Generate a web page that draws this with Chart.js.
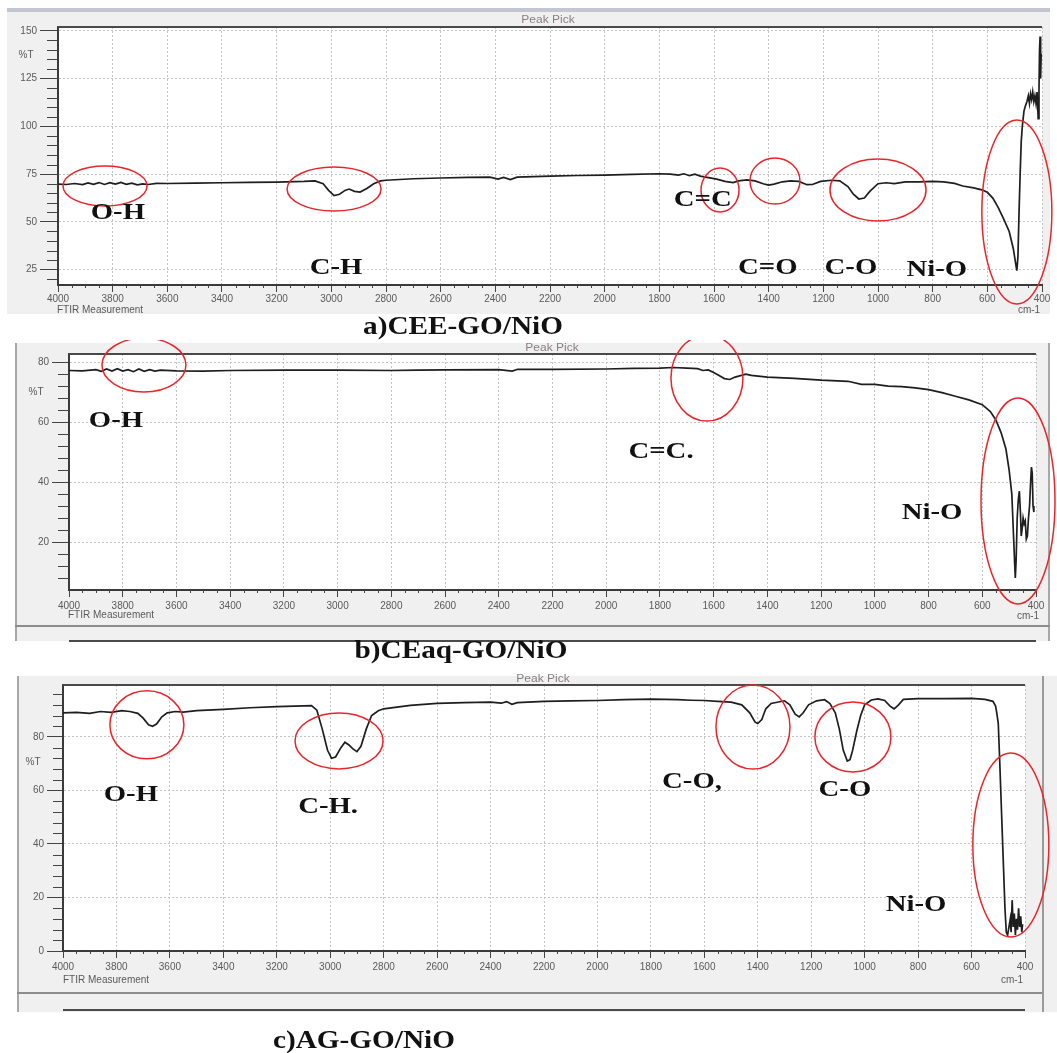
<!DOCTYPE html>
<html>
<head>
<meta charset="utf-8">
<script src="https://cdn.jsdelivr.net/npm/chart.js@4.4.1/dist/chart.umd.min.js"></script>
<style>
  html, body { margin: 0; padding: 0; background: #fff; }
  body { width: 1057px; height: 1053px; position: relative; overflow: hidden; }
  canvas { position: absolute; left: 0; }
</style>
</head>
<body>
<script>
// TICKS
const xTicks = [4000, 3800, 3600, 3400, 3200, 3000, 2800, 2600, 2400, 2200, 2000, 1800, 1600, 1400, 1200, 1000, 800, 600, 400];
const yTicksA = [25, 50, 75, 100, 125, 150];
const yTicksB = [20, 40, 60, 80];
const yTicksC = [0, 20, 40, 60, 80];

// a) CEE-GO/NiO  (wavenumber cm-1 / %T)
const waveA = [
  4000, 3970, 3940, 3910, 3890, 3870, 3850, 3830, 3810, 3790,
  3770, 3750, 3730, 3710, 3690, 3670, 3640, 3600, 3500, 3400,
  3300, 3200, 3100, 3060, 3030, 3010, 2990, 2970, 2950, 2935,
  2915, 2895, 2870, 2845, 2820, 2800, 2700, 2600, 2500, 2420,
  2390, 2370, 2345, 2320, 2200, 2100, 2000, 1900, 1800, 1760,
  1730, 1710, 1690, 1670, 1650, 1620, 1590, 1560, 1530, 1510,
  1480, 1450, 1420, 1400, 1380, 1350, 1320, 1290, 1260, 1240,
  1210, 1170, 1140, 1110, 1090, 1070, 1050, 1030, 1000, 970,
  940, 900, 850, 800, 760, 720, 690, 650, 620, 600,
  580, 560, 540, 520, 505, 495, 492, 488, 484, 480,
  476, 472, 466, 460, 455, 450, 446, 442, 438, 434,
  430, 426, 422, 418, 414, 411, 409, 407, 405, 403
];
const transA = [
  69.8, 69.6, 70.1, 69.5, 70.4, 69.7, 70.6, 69.6, 70.5, 69.8,
  70.7, 69.7, 70.3, 69.4, 69.9, 69.6, 70.2, 70.1, 70.3, 70.5,
  70.7, 70.8, 71.2, 71.5, 70.0, 66.5, 63.8, 64.5, 66.5, 67.2,
  66.0, 65.6, 67.5, 70.0, 71.5, 71.8, 72.6, 73.0, 73.3, 73.4,
  72.4, 73.3, 72.2, 73.4, 74.0, 74.3, 74.5, 74.9, 75.2, 75.0,
  74.5, 75.2, 74.2, 75.0, 74.0, 73.2, 72.4, 71.2, 70.6, 71.5,
  72.0, 71.5, 70.0, 69.3, 69.8, 71.0, 71.5, 71.2, 69.5, 69.6,
  71.2, 71.8, 71.5, 68.5, 64.5, 62.0, 62.5, 66.0, 70.0, 70.5,
  70.0, 71.0, 71.0, 71.2, 71.0, 70.2, 68.8, 67.8, 66.8, 65.5,
  62.5, 57.5, 51.5, 45.0, 36.0, 27.0, 24.5, 32.0, 55.0, 75.0,
  92.0, 100.0, 108.0, 111.0, 113.0, 116.0, 112.0, 117.0, 114.0, 118.0,
  113.0, 116.0, 112.0, 118.0, 104.0, 120.0, 140.0, 147.0, 125.0, 138.0
];

// b) CEaq-GO/NiO
const waveB = [
  4000, 3950, 3900, 3880, 3860, 3840, 3820, 3800, 3780, 3760,
  3740, 3720, 3700, 3680, 3660, 3600, 3500, 3400, 3200, 3000,
  2800, 2700, 2600, 2400, 2350, 2330, 2200, 2000, 1900, 1800,
  1750, 1700, 1660, 1640, 1620, 1600, 1580, 1560, 1540, 1520,
  1480, 1460, 1400, 1300, 1200, 1100, 1050, 1000, 950, 900,
  850, 800, 750, 700, 650, 600, 570, 550, 530, 512,
  500, 490, 485, 480, 477, 474, 470, 466, 462, 458,
  455, 452, 448, 444, 440, 436, 432, 428, 424, 420,
  417, 414, 411, 408
];
const transB = [
  77.2, 77.1, 77.5, 76.9, 77.7, 77.0, 77.8, 77.0, 77.5, 76.8,
  77.7, 76.9, 77.5, 77.0, 77.3, 77.1, 77.0, 77.2, 77.3, 77.3,
  77.2, 77.3, 77.4, 77.5, 77.0, 77.6, 77.6, 77.7, 77.9, 78.0,
  78.2, 78.0, 77.8, 77.2, 77.4, 76.5, 75.5, 74.5, 74.2, 75.0,
  76.0, 75.6, 75.0, 74.6, 74.0, 73.6, 72.6, 72.6, 72.0, 71.8,
  71.4, 70.8, 69.8, 68.6, 67.4, 65.8, 63.5, 60.8, 56.5, 51.0,
  44.0, 36.0, 25.0, 14.0, 8.0, 14.0, 28.0, 34.0, 37.0, 30.0,
  22.0, 24.0, 28.0, 26.0, 27.0, 21.0, 22.0, 28.0, 32.0, 40.0,
  45.0, 43.0, 32.0, 30.0
];

// c) AG-GO/NiO
const waveC = [
  4000, 3950, 3900, 3860, 3820, 3780, 3750, 3720, 3700, 3680,
  3665, 3650, 3630, 3610, 3580, 3550, 3500, 3400, 3300, 3200,
  3100, 3070, 3050, 3030, 3010, 2995, 2980, 2960, 2945, 2930,
  2915, 2900, 2885, 2865, 2845, 2820, 2800, 2700, 2600, 2500,
  2400, 2360, 2340, 2320, 2300, 2200, 2100, 2000, 1900, 1800,
  1700, 1650, 1600, 1550, 1500, 1460, 1430, 1410, 1400, 1385,
  1370, 1350, 1300, 1280, 1260, 1245, 1230, 1210, 1180, 1150,
  1130, 1110, 1095, 1080, 1065, 1055, 1045, 1030, 1015, 1000,
  975, 950, 925, 905, 890, 875, 855, 800, 700, 600,
  550, 520, 510, 505, 500, 495, 490, 485, 480, 475,
  470, 465, 460, 455, 452, 448, 444, 440, 436, 432,
  428, 424, 420, 416, 412, 409
];
const transC = [
  89.0, 89.2, 88.8, 89.5, 89.2, 89.8, 89.5, 88.8, 87.0, 84.5,
  84.0, 84.8, 87.5, 89.0, 89.5, 89.3, 89.8, 90.3, 90.9, 91.3,
  91.6, 91.7, 90.0, 83.0, 75.0, 72.0, 72.5, 76.0, 78.0, 77.0,
  75.5, 74.5, 76.5, 83.0, 88.0, 89.8, 90.5, 91.8, 92.5, 92.8,
  93.0, 92.6, 93.2, 92.2, 92.8, 93.3, 93.5, 93.6, 93.9, 94.1,
  93.9, 93.7, 93.6, 93.3, 93.0, 92.0, 89.0, 85.5, 85.0, 86.5,
  90.5, 92.5, 93.5, 92.0, 88.5, 87.5, 89.0, 92.0, 93.5, 93.9,
  92.5, 89.0, 83.0, 75.0, 71.0, 71.5, 75.0, 82.0, 88.0, 92.0,
  93.8, 94.2, 93.6, 91.5, 90.5, 91.8, 94.0, 94.3, 94.3, 94.4,
  94.0, 93.3, 91.5, 88.5, 85.0, 72.0, 58.0, 44.0, 30.0, 16.0,
  7.0, 6.0, 9.0, 12.0, 7.0, 19.0, 9.0, 14.0, 6.0, 12.0,
  8.0, 16.0, 9.0, 13.0, 7.0, 10.0
];

// BAND NAMES
const bandsA = ['O-H', 'C-H', 'C=C', 'C=O', 'C-O', 'Ni-O'];
const bandsB = ['O-H', 'C=C.', 'Ni-O'];
const bandsC = ['O-H', 'C-H.', 'C-O,', 'C-O', 'Ni-O'];

Chart.defaults.font.family = '"Liberation Sans", Arial, sans-serif';
Chart.defaults.font.size = 10;
Chart.defaults.color = '#5a5a5a';

function line(ctx, x1, y1, x2, y2) {
    ctx.beginPath();
    ctx.moveTo(x1, y1);
    ctx.lineTo(x2, y2);
    ctx.stroke();
}

function stretchText(ctx, text, x, y, font, sx) {
    ctx.save();
    ctx.translate(x, y);
    ctx.scale(sx, 1);
    ctx.font = font;
    ctx.textAlign = 'center';
    ctx.textBaseline = 'middle';
    ctx.fillText(text, 0, 0);
    ctx.restore();
}

function makeFrame(p) {
    return {
        id: 'ftirFrame',
        beforeDraw(chart) {
            const ctx = chart.ctx, a = chart.chartArea;
            ctx.save();
            p.back(ctx);
            ctx.fillStyle = '#ffffff';
            ctx.fillRect(a.left, a.top, a.right - a.left, a.bottom - a.top);
            ctx.restore();
        },
        afterDraw(chart) {
            const ctx = chart.ctx, a = chart.chartArea;
            const xs = chart.scales.x, ys = chart.scales.y;
            ctx.save();

            // top frame line of the plot
            ctx.strokeStyle = '#4a4a4a';
            ctx.lineWidth = 2;
            line(ctx, a.left, a.top, a.right, a.top);

            // minor ticks
            ctx.strokeStyle = '#444';
            ctx.lineWidth = 1;
            for (let v = 450; v < 4000; v += 50) {
                if (v % 200 === 0) continue;
                const px = Math.round(xs.getPixelForValue(v)) + 0.5;
                line(ctx, px, a.bottom, px, a.bottom + 3);
            }
            for (let v = p.minor.from; v < ys.max; v += p.minor.step) {
                if (p.yTicks.includes(v)) continue;
                const py = Math.round(ys.getPixelForValue(v)) + 0.5;
                line(ctx, a.left - p.minor.len, py, a.left, py);
            }

            // window texts
            ctx.fillStyle = '#5a5a5a';
            ctx.font = '10px "Liberation Sans"';
            ctx.textBaseline = 'middle';
            ctx.textAlign = 'center';
            ctx.fillText('%T', p.percentAt[0], p.percentAt[1]);
            ctx.fillText('cm-1', p.cmAt[0], p.cmAt[1]);
            ctx.textAlign = 'left';
            ctx.fillText('FTIR Measurement', p.ftirAt[0], p.ftirAt[1]);
            ctx.fillStyle = '#8b7d82';
            stretchText(ctx, 'Peak Pick', p.peakAt[0], p.peakAt[1], '10px "Liberation Sans"', 1.2);

            // red rings round the bands
            ctx.strokeStyle = '#e8262a';
            ctx.lineWidth = 1.5;
            p.rings.forEach(r => {
                ctx.beginPath();
                ctx.ellipse(xs.getPixelForValue(r[0]), ys.getPixelForValue(r[1]), r[2], r[3], 0, 0, Math.PI * 2);
                ctx.stroke();
            });

            // band names and caption
            ctx.fillStyle = '#111';
            p.names.forEach((n, i) => {
                stretchText(ctx, n, xs.getPixelForValue(p.spots[i][0]), ys.getPixelForValue(p.spots[i][1]),
                    'bold 23px "Liberation Serif"', 1.25);
            });
            stretchText(ctx, p.caption, p.captionAt[0], p.captionAt[1], 'bold 25px "Liberation Serif"', 1.17);
            ctx.restore();
        }
    };
}

function makePanel(p) {
    const canvas = document.createElement('canvas');
    canvas.width = 1057;
    canvas.height = p.height;
    canvas.style.top = p.top + 'px';
    document.body.appendChild(canvas);

    new Chart(canvas, {
        type: 'line',
        data: {
            datasets: [{
                data: p.wave.map((w, i) => ({ x: w, y: p.trans[i] })),
                borderColor: '#1e1e1e',
                borderWidth: 1.7,
                pointRadius: 0,
                tension: 0
            }]
        },
        options: {
            responsive: false,
            animation: false,
            devicePixelRatio: 1,
            layout: {
                padding: { left: 0, top: p.plot.top, right: 1057 - p.plot.right, bottom: 0 }
            },
            plugins: {
                legend: { display: false },
                tooltip: { enabled: false }
            },
            scales: {
                x: {
                    type: 'linear',
                    reverse: true,
                    min: 400,
                    max: 4000,
                    afterBuildTicks: s => { s.ticks = xTicks.map(v => ({ value: v })); },
                    afterFit: s => { s.height = p.height - p.plot.bottom; },
                    ticks: { autoSkip: false, maxRotation: 0, padding: p.xPad, callback: v => String(v) },
                    grid: { color: '#c4c4c4', tickColor: '#444', tickLength: 7 },
                    border: { color: '#3a3a3a', width: 2, dash: [2, 2] }
                },
                y: {
                    min: p.yMin,
                    max: p.yMax,
                    afterBuildTicks: s => { s.ticks = p.yTicks.map(v => ({ value: v })); },
                    afterFit: s => { s.width = p.plot.left; },
                    ticks: { padding: 3, callback: v => String(v) },
                    grid: { color: '#c4c4c4', tickColor: '#444', tickLength: p.tick },
                    border: { color: '#3a3a3a', width: 2, dash: [2, 2] }
                }
            }
        },
        plugins: [makeFrame(p)]
    });
}

makePanel({
    top: 0, height: 340,
    plot: { left: 58, right: 1042, top: 27, bottom: 285 },
    wave: waveA, trans: transA, yTicks: yTicksA, yMin: 17, yMax: 152,
    minor: { from: 20, step: 5, len: 11 }, tick: 18, xPad: 1,
    names: bandsA,
    spots: [[3781, 54.7], [2983, 25.9], [1641, 61.5], [1403, 25.9], [1099, 25.9], [785, 24.8]],
    rings: [[3828, 68.8, 42, 20], [2990, 67.2, 47, 22], [1578, 66.7, 19, 22], [1377, 71.4, 25, 23], [1000, 66.7, 48, 31], [492, 55.2, 35, 92]],
    caption: 'a)CEE-GO/NiO', captionAt: [463, 328],
    percentAt: [26, 55], peakAt: [548, 20], ftirAt: [57, 310], cmAt: [1029, 310],
    back(ctx) {
        ctx.fillStyle = '#f0f0f0';
        ctx.fillRect(7, 12, 1043, 302);
        ctx.fillStyle = '#c3c6d0';
        ctx.fillRect(7, 8, 1043, 4);
    }
});

makePanel({
    top: 340, height: 330,
    plot: { left: 69, right: 1036, top: 14, bottom: 250 },
    wave: waveB, trans: transB, yTicks: yTicksB, yMin: 4, yMax: 82.7,
    minor: { from: 8, step: 4, len: 11 }, tick: 17, xPad: 3,
    names: bandsB,
    spots: [[3825, 60.3], [1796, 50], [787, 29.7]],
    rings: [[3721, 79, 42, 27], [1625, 74.7, 36, 43], [467, 33.7, 37, 103]],
    caption: 'b)CEaq-GO/NiO', captionAt: [461, 312],
    percentAt: [36, 52], peakAt: [552, 8], ftirAt: [68, 275], cmAt: [1028, 276],
    back(ctx) {
        ctx.fillStyle = '#f0f0f0';
        ctx.fillRect(15, 3, 1035, 298);
        ctx.fillStyle = '#a8a8a8';
        ctx.fillRect(15, 3, 2, 298);
        ctx.fillRect(1048, 3, 2, 298);
        ctx.fillStyle = '#8c8c8c';
        ctx.fillRect(15, 285, 1035, 2);
        ctx.fillStyle = '#4a4a4a';
        ctx.fillRect(69, 300, 967, 2);
    }
});

makePanel({
    top: 670, height: 383,
    plot: { left: 63, right: 1025, top: 15, bottom: 281 },
    wave: waveC, trans: transC, yTicks: yTicksC, yMin: 0, yMax: 99.4,
    minor: { from: 4, step: 4, len: 10 }, tick: 16, xPad: 3,
    names: bandsC,
    spots: [[3746, 58.3], [3008, 53.8], [1646, 63.2], [1074, 60.2], [808, 17.2]],
    rings: [[3686, 84.5, 37, 34], [2967, 78.5, 44, 28], [1418, 83.7, 37, 42], [1044, 80, 38, 35], [453, 39.6, 38, 92]],
    caption: 'c)AG-GO/NiO', captionAt: [364, 372],
    percentAt: [33, 92], peakAt: [543, 9], ftirAt: [63, 310], cmAt: [1012, 310],
    back(ctx) {
        ctx.fillStyle = '#f0f0f0';
        ctx.fillRect(17, 6, 1040, 336);
        ctx.fillStyle = '#a8a8a8';
        ctx.fillRect(17, 6, 2, 336);
        ctx.fillStyle = '#8c8c8c';
        ctx.fillRect(17, 322, 1026, 2);
        ctx.fillStyle = '#9a9a9a';
        ctx.fillRect(1042, 6, 2, 336);
        ctx.fillStyle = '#4a4a4a';
        ctx.fillRect(63, 339, 962, 2);
    }
});
</script>
</body>
</html>
